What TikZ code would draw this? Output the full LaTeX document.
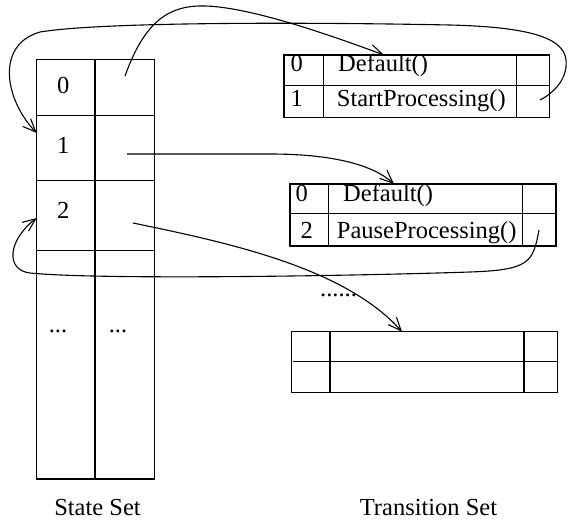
\documentclass[tikz,border=0pt]{standalone}
\usepackage{fontspec}
\setmainfont{Liberation Serif}
\usetikzlibrary{arrows.meta}
\begin{document}
\begin{tikzpicture}[x=1pt,y=-1pt,
  lbl/.style={inner sep=0pt, font=\fontsize{24.5}{29}\selectfont},
  tbox/.style={draw, line width=1.3pt, inner sep=0pt, outer sep=0pt, anchor=north west},
  grid/.style={line width=1.2pt},
  conn/.style={line width=1.1pt, -{Straight Barb[length=13pt,width=11pt,line width=1.1pt]}}]
\useasboundingbox (0,0) rectangle (568,520);

% ---------- State set ----------
\node[tbox, minimum width=117.6pt, minimum height=419.7pt] (stateset) at (36.7,59.3) {};
\draw[grid] (95,59.3) -- (95,479);
\draw[grid] (36.7,115.3) -- (154.3,115.3);
\draw[grid] (36.7,180.3) -- (154.3,180.3);
\draw[grid] (36.7,250.7) -- (154.3,250.7);
\node[lbl, anchor=base] (s0) at (63.3,93.3) {0};
\node[lbl, anchor=base] (s1) at (63.3,153.3) {1};
\node[lbl, anchor=base] (s2) at (63.3,218.3) {2};
\node[lbl, anchor=base] (sdl) at (58,332) {...};
\node[lbl, anchor=base] (sdr) at (118,332) {...};
\node[lbl, anchor=base] (stlabel) at (97.5,515) {State Set};

% ---------- Transition table 1 ----------
\node[tbox, minimum width=265.3pt, minimum height=62.3pt] (t1) at (284,55) {};
\draw[grid] (284,85.7) -- (549.3,85.7);
\draw[grid] (323.3,55) -- (323.3,117.3);
\draw[grid] (516.7,55) -- (516.7,117.3);
\node[lbl, anchor=base] (t1a) at (296.7,71.7) {0};
\node[lbl, anchor=base west] (t1b) at (338,71.7) {Default()};
\node[lbl, anchor=base] (t1c) at (296.7,106.7) {1};
\node[lbl, anchor=base west] (t1d) at (336.7,106.7) {StartProcessing()};

% ---------- Transition table 2 ----------
\node[tbox, minimum width=266pt, minimum height=62pt] (t2) at (290,184) {};
\draw[grid] (290,213.3) -- (556,213.3);
\draw[grid] (328.3,184) -- (328.3,246);
\draw[grid] (522.3,184) -- (522.3,246);
\node[lbl, anchor=base] (t2a) at (301.7,201.7) {0};
\node[lbl, anchor=base west] (t2b) at (343,201.7) {Default()};
\node[lbl, anchor=base] (t2c) at (306.7,238.3) {2};
\node[lbl, anchor=base west] (t2d) at (336.7,238.3) {PauseProcessing()};

\node[lbl, anchor=base west] (dots) at (320,296) {......};

% ---------- Transition table 3 ----------
\node[tbox, minimum width=265.6pt, minimum height=61pt] (t3) at (291.7,331.7) {};
\draw[grid] (293,361.7) -- (557.3,361.7);
\draw[grid] (330,331.7) -- (330,392.7);
\draw[grid] (524,331.7) -- (524,392.7);

\node[lbl, anchor=base] (trlabel) at (428.5,515) {Transition Set};

% ---------- connector end points ----------
\coordinate (a0) at (125,76);
\coordinate (a1) at (384,55);
\coordinate (b0) at (540,100);
\coordinate (b1) at (36.7,133);
\coordinate (c0) at (127,154);
\coordinate (c1) at (394,184);
\coordinate (d0) at (539,230);
\coordinate (d1) at (36.7,218);
\coordinate (e0) at (133,223);
\coordinate (e1) at (402,331.7);

% ---------- connectors ----------
\draw[conn] (a0) .. controls (145,20) and (170,5) .. (205,6)
                 .. controls (250,7) and (330,35) .. (a1);
\draw[conn] (b0) .. controls (552,94) and (568,80) .. (566,60)
                 .. controls (564,38) and (530,27) .. (450,25)
                 .. controls (300,22) and (100,22) .. (40,32)
                 .. controls (-5,45) and (5,100) .. (b1);
\draw[conn] (c0) -- (270,154) .. controls (330,154) and (372,164) .. (c1);
\draw[conn] (d0) .. controls (533,262) and (530,270) .. (470,272)
                 .. controls (350,276) and (100,280) .. (30,273)
                 .. controls (5,270) and (8,240) .. (d1);
\draw[conn] (e0) .. controls (230,243) and (345,268) .. (e1);
\end{tikzpicture}
\end{document}
